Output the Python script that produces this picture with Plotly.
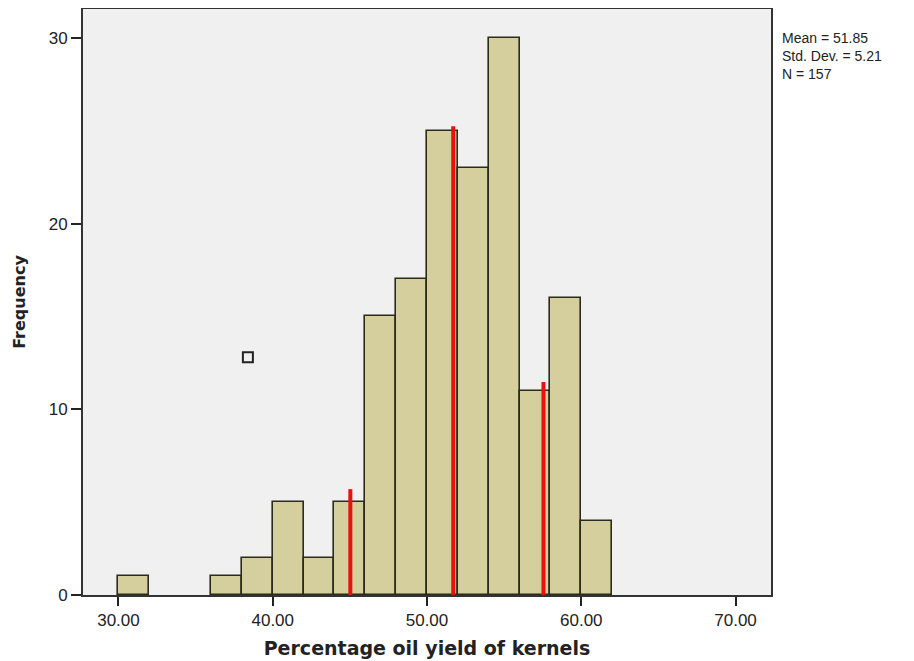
import plotly.graph_objects as go

# Histogram data (bin width 2)
bin_starts = [30, 36, 38, 40, 42, 44, 46, 48, 50, 52, 54, 56, 58, 60]
counts = [1, 1, 2, 5, 2, 5, 15, 17, 25, 23, 30, 11, 16, 4]
bin_width = 2

# Red reference lines (x position, top height)
ref_x = [45.03, 51.7, 57.55]
ref_top = [5.7, 25.25, 11.47]
ref_bottom = -0.48

# Small open square marker
marker_x = [38.39]
marker_y = [12.8]

x_ticks = [30, 40, 50, 60, 70]
x_ticklabels = ["30.00", "40.00", "50.00", "60.00", "70.00"]
y_ticks = [0, 10, 20, 30]

stats_lines = ["Mean = 51.85", "Std. Dev. = 5.21", "N = 157"]

fig = go.Figure()

fig.add_trace(go.Bar(
    x=[s + bin_width / 2 for s in bin_starts],
    y=counts,
    width=[bin_width] * len(bin_starts),
    marker=dict(color="#d4cf9c", line=dict(color="#2b2b1c", width=1.6)),
    hoverinfo="skip",
))

for xv, top in zip(ref_x, ref_top):
    fig.add_trace(go.Scatter(
        x=[xv, xv], y=[ref_bottom, top], mode="lines",
        line=dict(color="#e8120c", width=4),
        cliponaxis=False, hoverinfo="skip",
    ))

fig.add_trace(go.Scatter(
    x=marker_x, y=marker_y, mode="markers",
    marker=dict(symbol="square-open", size=10, color="#222222", line=dict(width=2)),
    hoverinfo="skip",
))

fig.update_layout(
    width=914, height=661,
    margin=dict(l=75, r=151, t=1, b=74, autoexpand=False),
    paper_bgcolor="white",
    plot_bgcolor="#f0f0f0",
    showlegend=False,
    bargap=0,
    font=dict(family="Liberation Sans, Arial, sans-serif", color="#222222"),
    xaxis=dict(
        range=[27.7, 72.3],
        tickvals=x_ticks, ticktext=x_ticklabels,
        ticks="outside", ticklen=9, tickwidth=2, tickcolor="#222222",
        showline=True, linecolor="#333333", linewidth=2, mirror=True,
        showgrid=False, zeroline=False, automargin=False,
        tickfont=dict(size=17),
        title=dict(text="<b>Percentage oil yield of kernels</b>",
                   font=dict(family="DejaVu Sans, Verdana, sans-serif", size=19), standoff=12),
    ),
    yaxis=dict(
        range=[0, 31.56],
        tickvals=y_ticks,
        ticks="outside", ticklen=10, tickwidth=2, tickcolor="#222222",
        showline=True, linecolor="#333333", linewidth=2, mirror=True,
        showgrid=False, zeroline=False, automargin=False,
        tickfont=dict(size=17),
        title=dict(text="<b>Frequency</b>",
                   font=dict(family="DejaVu Sans, Verdana, sans-serif", size=16), standoff=19),
    ),
    annotations=[dict(
        x=1.0, y=1.0, xref="paper", yref="paper",
        xanchor="left", yanchor="middle", xshift=9, yshift=-47,
        text="<br>".join(stats_lines), showarrow=False, align="left",
        font=dict(family="Liberation Sans, Arial, sans-serif", size=14, color="#222222"),
    )],
)

fig.write_html("out.html")
